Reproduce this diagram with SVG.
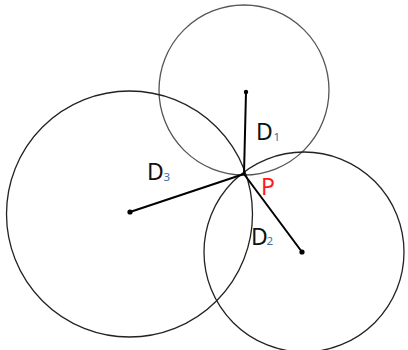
<svg xmlns="http://www.w3.org/2000/svg" width="408" height="350" viewBox="0 0 408 350">
<style>
.c{fill:none;stroke:#222;stroke-width:1.3}
.c1{stroke:#555}
.r{stroke:#000;stroke-width:2;stroke-linecap:round}
.d{fill:#000}
.t{font-family:"Noto Sans","Open Sans",sans-serif;font-size:23px;fill:#111}
.s{font-family:"Noto Sans","Open Sans",sans-serif;font-size:11.5px;fill:#3b6ea5}
.p{font-family:"Noto Sans","Open Sans",sans-serif;font-size:23px;fill:#ff1a1a}
</style>
<rect width="408" height="350" fill="#fff"/>
<g id="circle1"><circle class="c c1" cx="244" cy="90" r="85"/></g>
<g id="circle3"><circle class="c" cx="129.5" cy="214" r="123"/></g>
<g id="circle2"><circle class="c" cx="304" cy="252" r="100"/></g>
<g id="connectors">
<line class="r" x1="246" y1="92" x2="244" y2="174"/>
<line class="r" x1="130" y1="212" x2="244" y2="174"/>
<line class="r" x1="302" y1="252" x2="244" y2="174"/>
<circle class="d" cx="246" cy="92" r="2.2"/>
<circle class="d" cx="130" cy="212" r="2.6"/>
<circle class="d" cx="302" cy="252" r="2.6"/>
</g>
<g id="label-D1"><text class="t" x="256" y="140">D</text><text class="s" x="273.5" y="141">1</text></g>
<g id="label-D3"><text class="t" x="147" y="180">D</text><text class="s" x="163.5" y="181">3</text></g>
<g id="label-D2"><text class="t" x="251" y="245">D</text><text class="s" x="266.5" y="245">2</text></g>
<g id="label-P"><text class="p" x="261" y="195">P</text></g>
</svg>
